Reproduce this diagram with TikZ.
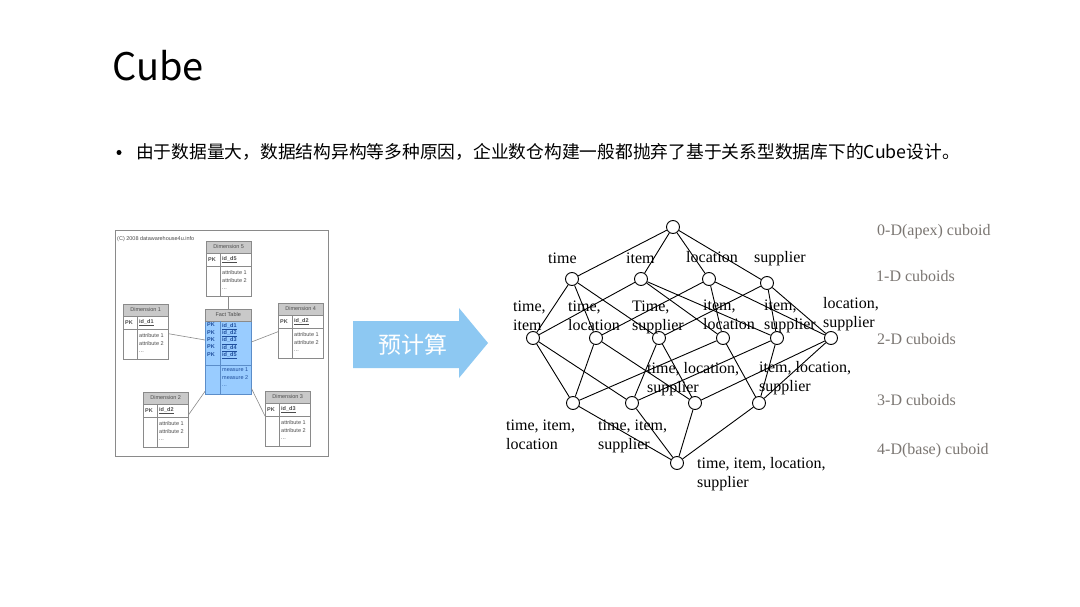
\documentclass[tikz,border=0pt]{standalone}
\usepackage{fontspec}
\setmainfont{Liberation Serif}
\newfontfamily\cjkfont{Noto Sans CJK SC}
\newfontfamily\tabfont{Liberation Sans}
\usetikzlibrary{calc}
\definecolor{arrowblue}{HTML}{8DC8F2}
\definecolor{levelgray}{HTML}{7B7672}
\definecolor{headgray}{HTML}{C9C9C9}
\definecolor{tabline}{HTML}{8A8A8A}
\definecolor{factblue}{HTML}{99CCFF}
\definecolor{factline}{HTML}{5B8DC9}
\definecolor{factink}{HTML}{1F4E9C}

% one dimension table: name, x, y (top left), title, key
\newcommand\dimtab[5]{%
  \node[tabbox, minimum height=55, anchor=north west] (#1) at (#2,#3) {};
  \filldraw[draw=tabline, fill=headgray] (#1.north west) rectangle ($(#1.north east)+(0,12)$);
  \draw[tabline] ($(#1.north west)+(0,25)$) -- ($(#1.north east)+(0,25)$);
  \draw[tabline] ($(#1.north west)+(14,12)$) -- ($(#1.south west)+(14,0)$);
  \node[tabtext] (#1-title) at ($(#1.north)+(0,6)$) {#4};
  \node[tabtext, font=\tabfont\bfseries\fontsize{5.5}{7.5}\selectfont, anchor=west] (#1-pk) at ($(#1.north west)+(2,18.5)$) {PK};
  \node[tabtext, anchor=west] (#1-key) at ($(#1.north west)+(16,18.5)$) {\underline{\textbf{#5}}};
  \node[tabtext, anchor=north west, align=left] (#1-attr) at ($(#1.north west)+(16,29.5)$) {attribute 1\\attribute 2\\...};
}

\begin{document}
\begin{tikzpicture}[x=1pt, y=-1pt,
    cuboid/.style={draw, circle, fill=white, minimum size=13, inner sep=0, line width=0.9pt},
    lbl/.style={font=\fontsize{16}{19.5}\selectfont, inner sep=0, align=left, anchor=base west},
    level/.style={font=\fontsize{16}{18}\selectfont, text=levelgray, inner sep=0, anchor=base west},
    link/.style={line width=0.9pt},
    tabbox/.style={draw=tabline, fill=white, minimum width=45, inner sep=0},
    tabtext/.style={font=\tabfont\fontsize{5.5}{7.5}\selectfont, text=black!70, inner sep=0},
    conn/.style={draw=tabline, line width=0.6pt}
]
    \fill[white] (0,0) rectangle (1080,607);
    \useasboundingbox (0,0) rectangle (1080,607);

    % title and bullet
    \node[anchor=base west, inner sep=0, font=\cjkfont\fontsize{38}{38}\selectfont] (title) at (112,81) {Cube};
    \node[circle, fill=black, inner sep=0, minimum size=5] (dot) at (119,152.5) {};
    \node[anchor=base west, inner sep=0, font=\cjkfont\fontsize{17.75}{18}\selectfont] (point) at (136,159)
        {由于数据量大，数据结构异构等多种原因，企业数仓构建一般都抛弃了基于关系型数据库下的Cube设计。};

    % star schema
    \draw[tabline, line width=0.8pt] (115,230) rectangle (328,456);
    \node[tabtext, anchor=west] (copy) at (117,239) {(C) 2008 datawarehouse4u.info};
    \dimtab{d5}{206}{241}{Dimension 5}{id\_d5}
    \dimtab{d1}{123}{304}{Dimension 1}{id\_d1}
    \dimtab{d4}{278}{303}{Dimension 4}{id\_d2}
    \dimtab{d2}{143}{392}{Dimension 2}{id\_d2}
    \dimtab{d3}{265}{391}{Dimension 3}{id\_d3}

    \node[tabbox, fill=factblue, draw=factline, minimum width=46, minimum height=85, anchor=north west] (fact) at (205,309) {};
    \filldraw[draw=tabline, fill=headgray] (fact.north west) rectangle ($(fact.north east)+(0,12)$);
    \draw[factline] ($(fact.north west)+(0,56)$) -- ($(fact.north east)+(0,56)$);
    \draw[factline] ($(fact.north west)+(15,12)$) -- ($(fact.south west)+(15,0)$);
    \node[tabtext] (fact-title) at ($(fact.north)+(0,6)$) {Fact Table};
    \node[tabtext, text=factink, font=\tabfont\bfseries\fontsize{5.5}{7.3}\selectfont, anchor=north west, align=left] (fact-pk)
        at ($(fact.north west)+(2,14)$) {PK\\PK\\PK\\PK\\PK};
    \node[tabtext, text=factink, font=\tabfont\bfseries\fontsize{5.5}{7.3}\selectfont, anchor=north west, align=left] (fact-keys)
        at ($(fact.north west)+(17,14)$) {\underline{id\_d1}\\\underline{id\_d2}\\\underline{id\_d3}\\\underline{id\_d4}\\\underline{id\_d5}};
    \node[tabtext, text=factink, anchor=north west, align=left] (fact-meas)
        at ($(fact.north west)+(17,59)$) {measure 1\\measure 2\\...};

    \draw[conn] (d5) -- (fact);
    \draw[conn] ($(d1.east)+(0,2)$) -- ($(fact.north west)+(0,31)$);
    \draw[conn] ($(d4.west)+(0,1)$) -- ($(fact.north east)+(0,33)$);
    \draw[conn] ($(fact.south west)+(0,-3)$) -- ($(d2.north east)+(0,23)$);
    \draw[conn] ($(fact.south east)+(0,-6)$) -- ($(d3.north west)+(0,25)$);

    % precompute arrow
    \fill[arrowblue] (353,321) -- (459,321) -- (459,308) -- (488,343) -- (459,378) -- (459,368) -- (353,368) -- cycle;
    \node[text=white, inner sep=0, font=\cjkfont\fontsize{23}{23}\selectfont] (precalc) at (413,345) {预计算};

    % cuboid lattice
    \node[cuboid] (apex) at (673,227) {};
    \node[cuboid] (t) at (572,279) {};
    \node[cuboid] (i) at (641,279) {};
    \node[cuboid] (l) at (709,279) {};
    \node[cuboid] (s) at (767,283) {};
    \node[cuboid] (ti) at (533,338) {};
    \node[cuboid] (tl) at (596,338) {};
    \node[cuboid] (ts) at (659,338) {};
    \node[cuboid] (il) at (723,338) {};
    \node[cuboid] (is) at (777,338) {};
    \node[cuboid] (ls) at (831,338) {};
    \node[cuboid] (til) at (573,403) {};
    \node[cuboid] (tis) at (632,403) {};
    \node[cuboid] (tls) at (695,403) {};
    \node[cuboid] (ils) at (759,403) {};
    \node[cuboid] (tils) at (677,463) {};

    \foreach \a/\b in {apex/t, apex/i, apex/l, apex/s,
                       t/ti, t/tl, t/ts, i/ti, i/il, i/is, l/tl, l/il, l/ls, s/ts, s/is, s/ls,
                       ti/til, ti/tis, tl/til, tl/tls, ts/tis, ts/tls, il/til, il/ils, is/tis, is/ils, ls/tls, ls/ils,
                       til/tils, tis/tils, tls/tils, ils/tils}
        \draw[link] (\a) -- (\b);

    % labels (base = baseline of the last line)
    \node[lbl] (lab-t) at (548,263) {time};
    \node[lbl] (lab-i) at (626,263) {item};
    \node[lbl] (lab-l) at (686,262) {location};
    \node[lbl] (lab-s) at (754,262) {supplier};
    \node[lbl] (lab-ti) at (513,330.5) {time,\\item};
    \node[lbl] (lab-tl) at (568,330.5) {time,\\location};
    \node[lbl] (lab-ts) at (632,330.5) {Time,\\supplier};
    \node[lbl] (lab-il) at (703,329.5) {item,\\location};
    \node[lbl] (lab-is) at (764,329.5) {item,\\supplier};
    \node[lbl] (lab-ls) at (823,327.5) {location,\\supplier};
    \node[lbl] (lab-tls) at (647,392.5) {time, location,\\supplier};
    \node[lbl] (lab-ils) at (759,391.5) {item, location,\\supplier};
    \node[lbl] (lab-til) at (506,449.5) {time, item,\\location};
    \node[lbl] (lab-tis) at (598,449.5) {time, item,\\supplier};
    \node[lbl] (lab-tils) at (697,487.5) {time, item, location,\\supplier};

    % level names
    \node[level] (lev0) at (877,236) {0-D(apex) cuboid};
    \node[level] (lev1) at (876,281) {1-D cuboids};
    \node[level] (lev2) at (877,344) {2-D cuboids};
    \node[level] (lev3) at (877,405) {3-D cuboids};
    \node[level] (lev4) at (877,454) {4-D(base) cuboid};
\end{tikzpicture}
\end{document}
